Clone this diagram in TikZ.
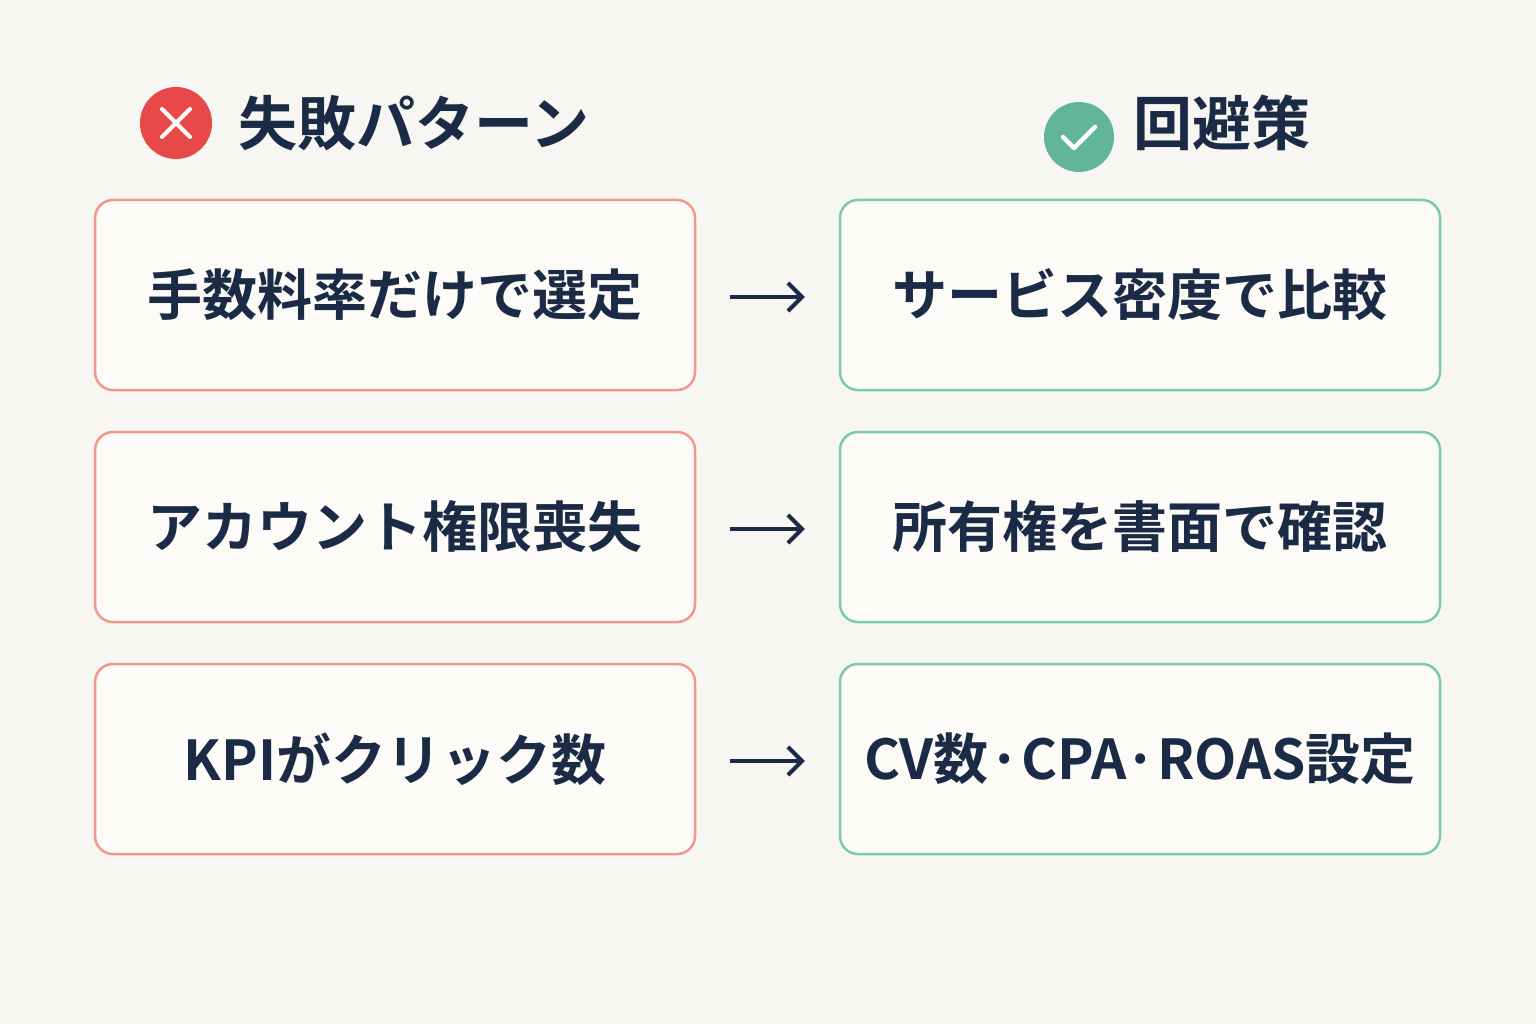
\documentclass[tikz,border=0pt]{standalone}
\usepackage{fontspec}
\newfontfamily\cjk{Noto Sans CJK JP Bold}
\usetikzlibrary{arrows.meta}
\definecolor{bg}{HTML}{F7F6F3}
\definecolor{boxfill}{HTML}{FCFBF8}
\definecolor{redb}{HTML}{F0998A}
\definecolor{greenb}{HTML}{7DCBAA}
\definecolor{ink}{HTML}{1C2B45}
\definecolor{redc}{HTML}{E84848}
\definecolor{greenc}{HTML}{62B49B}
\tikzset{
 x=1pt,y=-1pt,
 box/.style={draw,line width=2.5pt,rounded corners=18pt,fill=boxfill,minimum width=600pt,minimum height=190pt,inner sep=0pt,font=\cjk\fontsize{55}{60}\selectfont,text=ink},
 bad/.style={box,draw=redb},
 good/.style={box,draw=greenb},
 arr/.style={-{Straight Barb[length=14pt,width=28pt,line width=4pt]},line width=4pt,draw=ink},
 head/.style={font=\cjk\fontsize{59}{64}\selectfont,text=ink,anchor=west,inner sep=0pt}
}
\begin{document}
\begin{tikzpicture}
\fill[bg] (0,0) rectangle (1536,1024);
\useasboundingbox (0,0) rectangle (1536,1024);
\node[circle,fill=redc,minimum size=72pt,inner sep=0pt] (xc) at (176,123) {};
\draw[white,line width=4pt,line cap=round] (162,109)--(190,137) (190,109)--(162,137);
\node[head] (h1) at (238,123) {失敗パターン};
\node[circle,fill=greenc,minimum size=70pt,inner sep=0pt] (vc) at (1079,137) {};
\draw[white,line width=4.5pt,line cap=round,line join=round] (1063,137)--(1074,148)--(1095,127);
\node[head] (h2) at (1133,123) {回避策};
\node[bad] (l1) at (395,295) {手数料率だけで選定};
\node[bad] (l2) at (395,527) {アカウント権限喪失};
\node[bad] (l3) at (395,759) {KPIがクリック数};
\node[good] (r1) at (1140,295) {サービス密度で比較};
\node[good] (r2) at (1140,527) {所有権を書面で確認};
\node[good] (r3) at (1140,759) {CV数·CPA·ROAS設定};
\foreach \a/\b in {l1/r1,l2/r2,l3/r3}{
 \draw[arr] ([xshift=34pt,yshift=-2pt]\a.east) -- ([xshift=-34pt,yshift=-2pt]\b.west);
}
\end{tikzpicture}
\end{document}
